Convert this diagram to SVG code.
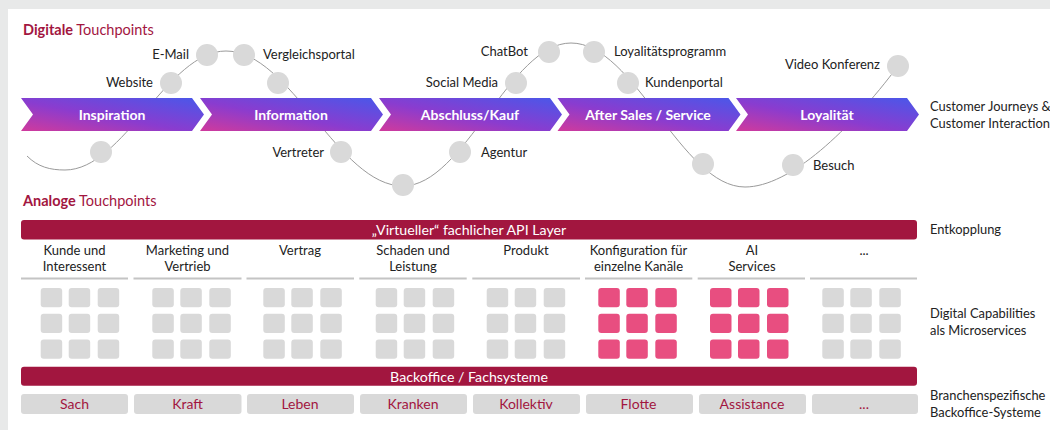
<svg xmlns="http://www.w3.org/2000/svg" width="1050" height="430" viewBox="0 0 1050 430">
  <defs>
    <linearGradient id="chev" x1="0" y1="1" x2="1" y2="0">
      <stop offset="0" stop-color="#d03a9c"/>
      <stop offset="0.45" stop-color="#8a3ccf"/>
      <stop offset="1" stop-color="#4858ea"/>
    </linearGradient>
    <polygon id="chevShape" points="0,0 171,0 183,16.5 171,33 0,33 12,16.5"/>
  </defs>
  <style>
    text { font-family: Lato, "Liberation Sans", sans-serif; }
    .lbl { font-size: 13px; fill: #222; }
    .chevtxt { font-size: 14px; font-weight: bold; fill: #fff; text-anchor: middle; }
    .title { font-size: 14.5px; fill: #a2163f; }
    .dot { fill: #d9d9d9; }
    .curve { fill: none; stroke: #9a9a9a; stroke-width: 1; }
    .bar { fill: #a2163f; }
    .bartxt { font-size: 14.2px; fill: #fff; text-anchor: middle; }
    .hdr { font-size: 13px; fill: #222; text-anchor: middle; }
    .uline { stroke: #c4c4c4; stroke-width: 2; }
    .sq { fill: #d9d9d9; }
    .sqp { fill: #e84e80; }
    .bo { fill: #d9d9d9; }
    .botxt { font-size: 14px; fill: #a2163f; text-anchor: middle; }
    .side { font-size: 12.9px; fill: #222; }
  </style>

  <rect x="0" y="0" width="1050" height="430" fill="#e8e9e9"/>
  <rect x="8" y="9" width="1042" height="421" fill="#ffffff"/>

  <text class="title" x="23" y="35"><tspan font-weight="bold">Digitale</tspan> Touchpoints</text>

  <g id="connectors">
    <path class="curve" d="M27,156 C38,167 50,170 65,170 C123.6,170 167.4,51 226,51 C290.5,51 338.5,186 403,186 C464.2,186 509.8,43 571,43 C634.4,43 681.6,187 745,187 C790,187 850,130 898,66"/>
  </g>

  <g id="chevrons">
    <g id="chev-inspiration"><use href="#chevShape" x="21" y="98" fill="url(#chev)"/><text class="chevtxt" x="112" y="120">Inspiration</text></g>
    <g id="chev-information"><use href="#chevShape" x="200" y="98" fill="url(#chev)"/><text class="chevtxt" x="291" y="120">Information</text></g>
    <g id="chev-abschluss"><use href="#chevShape" x="379" y="98" fill="url(#chev)"/><text class="chevtxt" x="470" y="120">Abschluss/Kauf</text></g>
    <g id="chev-aftersales"><use href="#chevShape" x="557.5" y="98" fill="url(#chev)"/><text class="chevtxt" x="648" y="120">After Sales / Service</text></g>
    <g id="chev-loyalitaet"><use href="#chevShape" x="736" y="98" fill="url(#chev)"/><text class="chevtxt" x="827" y="120">Loyalität</text></g>
  </g>

  <g id="touchpoints">
    <g id="tp-1"><circle class="dot" cx="101" cy="152" r="11"/></g>
    <g id="tp-website"><circle class="dot" cx="171" cy="83" r="11"/><text class="lbl" x="153" y="87" text-anchor="end">Website</text></g>
    <g id="tp-email"><circle class="dot" cx="207" cy="55" r="11"/><text class="lbl" x="189" y="59" text-anchor="end">E-Mail</text></g>
    <g id="tp-vergleich"><circle class="dot" cx="244" cy="55" r="11"/><text class="lbl" x="263" y="59">Vergleichsportal</text></g>
    <g id="tp-2"><circle class="dot" cx="278" cy="83" r="11"/></g>
    <g id="tp-vertreter"><circle class="dot" cx="341" cy="152" r="11"/><text class="lbl" x="324" y="157" text-anchor="end">Vertreter</text></g>
    <g id="tp-3"><circle class="dot" cx="403" cy="185" r="11"/></g>
    <g id="tp-agentur"><circle class="dot" cx="460" cy="152" r="11"/><text class="lbl" x="481" y="157">Agentur</text></g>
    <g id="tp-social"><circle class="dot" cx="516" cy="83" r="11"/><text class="lbl" x="498" y="87" text-anchor="end">Social Media</text></g>
    <g id="tp-chatbot"><circle class="dot" cx="549" cy="52" r="11"/><text class="lbl" x="528" y="56" text-anchor="end">ChatBot</text></g>
    <g id="tp-loyal"><circle class="dot" cx="594" cy="52" r="11"/><text class="lbl" x="614" y="56">Loyalitätsprogramm</text></g>
    <g id="tp-kunden"><circle class="dot" cx="628" cy="83" r="11"/><text class="lbl" x="645" y="87">Kundenportal</text></g>
    <g id="tp-4"><circle class="dot" cx="703" cy="164" r="11"/></g>
    <g id="tp-besuch"><circle class="dot" cx="793" cy="165" r="11"/><text class="lbl" x="813" y="170">Besuch</text></g>
    <g id="tp-video"><circle class="dot" cx="898" cy="66" r="11"/><text class="lbl" x="880" y="69" text-anchor="end">Video Konferenz</text></g>
  </g>

  <g id="side-journey"><text class="side" x="930" y="111">Customer Journeys &amp;</text><text class="side" x="930" y="128">Customer Interactions</text></g>

  <text class="title" x="23" y="206"><tspan font-weight="bold">Analoge</tspan> Touchpoints</text>

  <g id="api-layer"><rect class="bar" x="21" y="220" width="896" height="19.5" rx="3"/><text class="bartxt" x="469" y="234.5">„Virtueller“ fachlicher API Layer</text></g>
  <g id="side-entkopplung"><text class="side" x="930" y="234">Entkopplung</text></g>

  <g id="col-kunde">
    <text class="hdr" x="74.5" y="255">Kunde und</text><text class="hdr" x="74.5" y="271">Interessent</text>
    <line class="uline" x1="21" y1="278.5" x2="128" y2="278.5"/>
    <g class="sq" transform="translate(40.7,288)">
      <rect x="0" y="0" width="21.5" height="19.3" rx="3"/><rect x="28" y="0" width="21.5" height="19.3" rx="3"/><rect x="57" y="0" width="21.5" height="19.3" rx="3"/>
      <rect x="0" y="25.7" width="21.5" height="19.3" rx="3"/><rect x="28" y="25.7" width="21.5" height="19.3" rx="3"/><rect x="57" y="25.7" width="21.5" height="19.3" rx="3"/>
      <rect x="0" y="51.4" width="21.5" height="19.3" rx="3"/><rect x="28" y="51.4" width="21.5" height="19.3" rx="3"/><rect x="57" y="51.4" width="21.5" height="19.3" rx="3"/>
    </g>
  </g>
  <g id="col-marketing">
    <text class="hdr" x="187.5" y="255">Marketing und</text><text class="hdr" x="187.5" y="271">Vertrieb</text>
    <line class="uline" x1="133.5" y1="278.5" x2="241.5" y2="278.5"/>
    <g class="sq" transform="translate(152.3,288)">
      <rect x="0" y="0" width="21.5" height="19.3" rx="3"/><rect x="28" y="0" width="21.5" height="19.3" rx="3"/><rect x="57" y="0" width="21.5" height="19.3" rx="3"/>
      <rect x="0" y="25.7" width="21.5" height="19.3" rx="3"/><rect x="28" y="25.7" width="21.5" height="19.3" rx="3"/><rect x="57" y="25.7" width="21.5" height="19.3" rx="3"/>
      <rect x="0" y="51.4" width="21.5" height="19.3" rx="3"/><rect x="28" y="51.4" width="21.5" height="19.3" rx="3"/><rect x="57" y="51.4" width="21.5" height="19.3" rx="3"/>
    </g>
  </g>
  <g id="col-vertrag">
    <text class="hdr" x="300" y="255">Vertrag</text>
    <line class="uline" x1="246.5" y1="278.5" x2="354" y2="278.5"/>
    <g class="sq" transform="translate(263.3,288)">
      <rect x="0" y="0" width="21.5" height="19.3" rx="3"/><rect x="28" y="0" width="21.5" height="19.3" rx="3"/><rect x="57" y="0" width="21.5" height="19.3" rx="3"/>
      <rect x="0" y="25.7" width="21.5" height="19.3" rx="3"/><rect x="28" y="25.7" width="21.5" height="19.3" rx="3"/><rect x="57" y="25.7" width="21.5" height="19.3" rx="3"/>
      <rect x="0" y="51.4" width="21.5" height="19.3" rx="3"/><rect x="28" y="51.4" width="21.5" height="19.3" rx="3"/><rect x="57" y="51.4" width="21.5" height="19.3" rx="3"/>
    </g>
  </g>
  <g id="col-schaden">
    <text class="hdr" x="413" y="255">Schaden und</text><text class="hdr" x="413" y="271">Leistung</text>
    <line class="uline" x1="359.3" y1="278.5" x2="466.7" y2="278.5"/>
    <g class="sq" transform="translate(375.7,288)">
      <rect x="0" y="0" width="21.5" height="19.3" rx="3"/><rect x="28" y="0" width="21.5" height="19.3" rx="3"/><rect x="57" y="0" width="21.5" height="19.3" rx="3"/>
      <rect x="0" y="25.7" width="21.5" height="19.3" rx="3"/><rect x="28" y="25.7" width="21.5" height="19.3" rx="3"/><rect x="57" y="25.7" width="21.5" height="19.3" rx="3"/>
      <rect x="0" y="51.4" width="21.5" height="19.3" rx="3"/><rect x="28" y="51.4" width="21.5" height="19.3" rx="3"/><rect x="57" y="51.4" width="21.5" height="19.3" rx="3"/>
    </g>
  </g>
  <g id="col-produkt">
    <text class="hdr" x="526" y="255">Produkt</text>
    <line class="uline" x1="472.3" y1="278.5" x2="580" y2="278.5"/>
    <g class="sq" transform="translate(486.7,288)">
      <rect x="0" y="0" width="21.5" height="19.3" rx="3"/><rect x="28" y="0" width="21.5" height="19.3" rx="3"/><rect x="57" y="0" width="21.5" height="19.3" rx="3"/>
      <rect x="0" y="25.7" width="21.5" height="19.3" rx="3"/><rect x="28" y="25.7" width="21.5" height="19.3" rx="3"/><rect x="57" y="25.7" width="21.5" height="19.3" rx="3"/>
      <rect x="0" y="51.4" width="21.5" height="19.3" rx="3"/><rect x="28" y="51.4" width="21.5" height="19.3" rx="3"/><rect x="57" y="51.4" width="21.5" height="19.3" rx="3"/>
    </g>
  </g>
  <g id="col-konfiguration">
    <text class="hdr" x="638.5" y="255">Konfiguration für</text><text class="hdr" x="638.5" y="271">einzelne Kanäle</text>
    <line class="uline" x1="585" y1="278.5" x2="692.3" y2="278.5"/>
    <g class="sqp" transform="translate(598.3,288)">
      <rect x="0" y="0" width="21.5" height="19.3" rx="3"/><rect x="28" y="0" width="21.5" height="19.3" rx="3"/><rect x="57" y="0" width="21.5" height="19.3" rx="3"/>
      <rect x="0" y="25.7" width="21.5" height="19.3" rx="3"/><rect x="28" y="25.7" width="21.5" height="19.3" rx="3"/><rect x="57" y="25.7" width="21.5" height="19.3" rx="3"/>
      <rect x="0" y="51.4" width="21.5" height="19.3" rx="3"/><rect x="28" y="51.4" width="21.5" height="19.3" rx="3"/><rect x="57" y="51.4" width="21.5" height="19.3" rx="3"/>
    </g>
  </g>
  <g id="col-ai">
    <text class="hdr" x="752" y="255">AI</text><text class="hdr" x="752" y="271">Services</text>
    <line class="uline" x1="697.7" y1="278.5" x2="805" y2="278.5"/>
    <g class="sqp" transform="translate(710,288)">
      <rect x="0" y="0" width="21.5" height="19.3" rx="3"/><rect x="28" y="0" width="21.5" height="19.3" rx="3"/><rect x="57" y="0" width="21.5" height="19.3" rx="3"/>
      <rect x="0" y="25.7" width="21.5" height="19.3" rx="3"/><rect x="28" y="25.7" width="21.5" height="19.3" rx="3"/><rect x="57" y="25.7" width="21.5" height="19.3" rx="3"/>
      <rect x="0" y="51.4" width="21.5" height="19.3" rx="3"/><rect x="28" y="51.4" width="21.5" height="19.3" rx="3"/><rect x="57" y="51.4" width="21.5" height="19.3" rx="3"/>
    </g>
  </g>
  <g id="col-more">
    <text class="hdr" x="864" y="255">...</text>
    <line class="uline" x1="810" y1="278.5" x2="917" y2="278.5"/>
    <g class="sq" transform="translate(822.3,288)">
      <rect x="0" y="0" width="21.5" height="19.3" rx="3"/><rect x="28" y="0" width="21.5" height="19.3" rx="3"/><rect x="57" y="0" width="21.5" height="19.3" rx="3"/>
      <rect x="0" y="25.7" width="21.5" height="19.3" rx="3"/><rect x="28" y="25.7" width="21.5" height="19.3" rx="3"/><rect x="57" y="25.7" width="21.5" height="19.3" rx="3"/>
      <rect x="0" y="51.4" width="21.5" height="19.3" rx="3"/><rect x="28" y="51.4" width="21.5" height="19.3" rx="3"/><rect x="57" y="51.4" width="21.5" height="19.3" rx="3"/>
    </g>
  </g>

  <g id="side-capabilities"><text class="side" x="930" y="318">Digital Capabilities</text><text class="side" x="930" y="335">als Microservices</text></g>

  <g id="backoffice"><rect class="bar" x="21" y="366.7" width="896" height="19" rx="3"/><text class="bartxt" x="469" y="381.5">Backoffice / Fachsysteme</text></g>

  <g id="bo-sach"><rect class="bo" x="21" y="394" width="107" height="20" rx="3"/><text class="botxt" x="74.5" y="409">Sach</text></g>
  <g id="bo-kraft"><rect class="bo" x="134" y="394" width="107.5" height="20" rx="3"/><text class="botxt" x="187.5" y="409">Kraft</text></g>
  <g id="bo-leben"><rect class="bo" x="247" y="394" width="107" height="20" rx="3"/><text class="botxt" x="300" y="409">Leben</text></g>
  <g id="bo-kranken"><rect class="bo" x="360" y="394" width="107" height="20" rx="3"/><text class="botxt" x="413" y="409">Kranken</text></g>
  <g id="bo-kollektiv"><rect class="bo" x="473" y="394" width="107" height="20" rx="3"/><text class="botxt" x="526" y="409">Kollektiv</text></g>
  <g id="bo-flotte"><rect class="bo" x="586" y="394" width="107" height="20" rx="3"/><text class="botxt" x="638.5" y="409">Flotte</text></g>
  <g id="bo-assistance"><rect class="bo" x="699" y="394" width="107" height="20" rx="3"/><text class="botxt" x="752" y="409">Assistance</text></g>
  <g id="bo-more"><rect class="bo" x="812" y="394" width="106" height="20" rx="3"/><text class="botxt" x="864" y="409">...</text></g>

  <g id="side-branchen"><text class="side" x="930" y="400">Branchenspezifische</text><text class="side" x="930" y="417">Backoffice-Systeme</text></g>
</svg>
